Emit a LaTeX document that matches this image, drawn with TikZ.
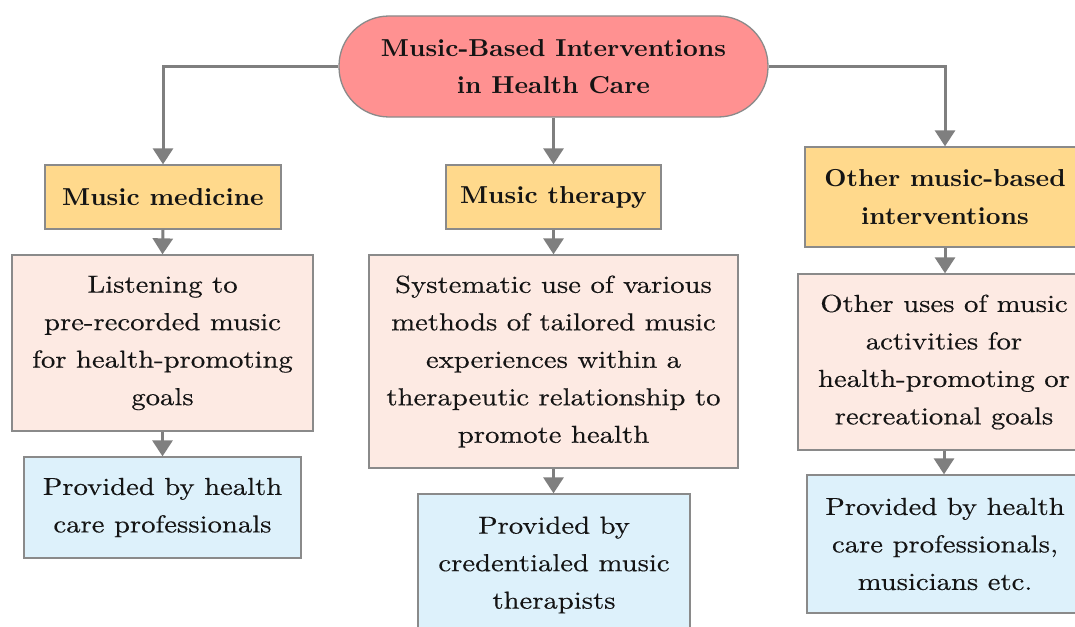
\documentclass[tikz,border=0pt]{standalone}
\usepackage{fontspec}
\usetikzlibrary{arrows.meta}
\newfontfamily\regf{lmroman10-regular.otf}[FakeStretch=1.17, FakeBold=0.4]
\newfontfamily\boldf{lmroman10-bold.otf}[FakeStretch=1.05]
\definecolor{topfill}{HTML}{FF9191}
\definecolor{yelfill}{HTML}{FFD98C}
\definecolor{pinkfill}{HTML}{FDEAE3}
\definecolor{bluefill}{HTML}{DDF1FB}
\definecolor{edgegray}{HTML}{8A8A8A}
\definecolor{arrgray}{HTML}{7F7F7F}
\definecolor{txt}{HTML}{141414}
\tikzset{
  basebox/.style={rectangle, draw=edgegray, line width=1.3pt, inner sep=0pt, align=center, text=txt},
  topbox/.style={basebox, fill=topfill, rounded corners=50pt, font=\boldf\fontsize{24.5}{37.5}\selectfont},
  catbox/.style={basebox, fill=yelfill, font=\boldf\fontsize{24.5}{37.5}\selectfont},
  descbox/.style={basebox, fill=pinkfill, font=\regf\fontsize{24.5}{37.5}\selectfont},
  provbox/.style={basebox, fill=bluefill, font=\regf\fontsize{24.5}{37.5}\selectfont},
  arr/.style={draw=arrgray, line width=3pt, -{Triangle[width=20pt,length=16pt]}}
}
\begin{document}
\begin{tikzpicture}[x=1pt,y=-1pt]
\useasboundingbox (0,0) rectangle (1075,626);
\node[topbox, minimum width=429pt, minimum height=101pt] (top) at (553.5,66.5) {Music-Based Interventions\\in Health Care};
% level 2
\node[catbox, minimum width=236pt, minimum height=64pt] (mm) at (163,197) {Music medicine};
\node[catbox, minimum width=215pt, minimum height=64pt] (mt) at (553.5,197) {Music therapy};
\node[catbox, minimum width=280pt, minimum height=100pt] (omb) at (945,197) {Other music-based\\interventions};
% level 3
\node[descbox, minimum width=301pt, minimum height=176pt] (lis) at (162.5,343) {Listening to\\pre-recorded music\\for health-promoting\\goals};
\node[descbox, minimum width=369pt, minimum height=213pt] (sys) at (553.5,361.5) {Systematic use of various\\methods of tailored music\\experiences within a\\therapeutic relationship to\\promote health};
\node[descbox, minimum width=292pt, minimum height=176pt] (oth) at (944,362) {Other uses of music\\activities for\\health-promoting or\\recreational goals};
% level 4
\node[provbox, minimum width=277pt, minimum height=101pt] (p1) at (162.5,507.5) {Provided by health\\care professionals};
\node[provbox, minimum width=272pt, minimum height=142pt] (p2) at (554,565) {Provided by\\credentialed music\\therapists};
\node[provbox, minimum width=276pt, minimum height=138pt] (p3) at (945,544) {Provided by health\\care professionals,\\musicians etc.};
% connectors
\draw[arr] (top.west) -| (mm.north);
\draw[arr] (top.south) -- (mt.north);
\draw[arr] (top.east) -| (omb.north);
\draw[arr] (mm.south) -- (lis.north);
\draw[arr] (mt.south) -- (mt.south |- sys.north);
\draw[arr] (omb.south) -- (omb.south |- oth.north);
\draw[arr] (lis.south) -- (lis.south |- p1.north);
\draw[arr] (sys.south) -- (sys.south |- p2.north);
\draw[arr] (oth.south) -- (oth.south |- p3.north);
\end{tikzpicture}
\end{document}
